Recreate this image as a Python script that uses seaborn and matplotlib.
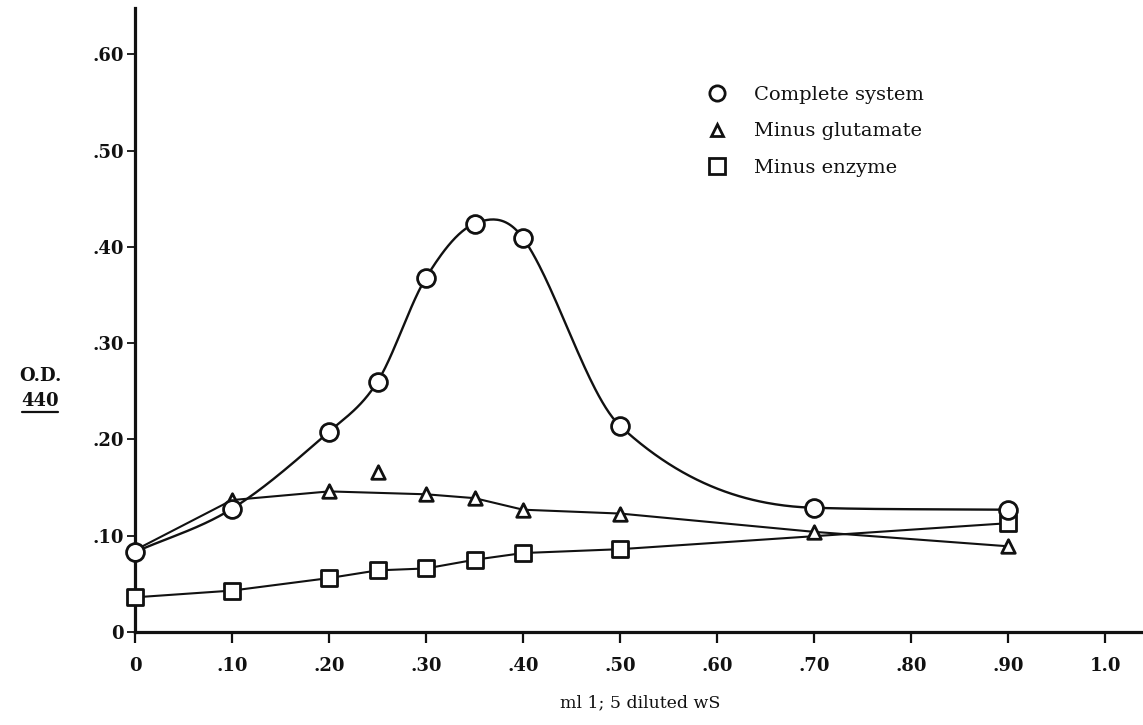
import numpy as np
import pandas as pd
import matplotlib
matplotlib.use("Agg")
import matplotlib.pyplot as plt
from matplotlib.lines import Line2D
import seaborn as sns

# ---------------- data ----------------
complete_x = [0.00, 0.10, 0.20, 0.25, 0.30, 0.35, 0.40, 0.50, 0.70, 0.90]
complete_y = [0.083, 0.128, 0.208, 0.260, 0.368, 0.424, 0.409, 0.214, 0.129, 0.127]

glut_x = [0.00, 0.10, 0.20, 0.30, 0.35, 0.40, 0.50, 0.70, 0.90]
glut_y = [0.085, 0.137, 0.146, 0.143, 0.139, 0.127, 0.123, 0.104, 0.089]
glut_extra_x = [0.25]          # isolated point, not on the drawn line
glut_extra_y = [0.166]

enz_x = [0.00, 0.10, 0.20, 0.25, 0.30, 0.35, 0.40, 0.50, 0.90]
enz_y = [0.036, 0.043, 0.056, 0.064, 0.066, 0.075, 0.082, 0.086, 0.113]

series_names = ["Complete system", "Minus glutamate", "Minus enzyme"]

x_ticks = [0.0, 0.1, 0.2, 0.3, 0.4, 0.5, 0.6, 0.7, 0.8, 0.9, 1.0]
x_ticklabels = ["0", ".10", ".20", ".30", ".40", ".50", ".60", ".70", ".80", ".90", "1.0"]
y_ticks = [0.0, 0.1, 0.2, 0.3, 0.4, 0.5, 0.6]
y_ticklabels = ["0", ".10", ".20", ".30", ".40", ".50", ".60"]

x_label = "ml 1; 5 diluted wS"
y_label_top = "O.D."
y_label_bottom = "440"


# smooth hand-drawn-like curve (Catmull-Rom tangents, limited only on monotone stretches)
def smooth_curve(x, y, xs):
    x = np.asarray(x, float)
    y = np.asarray(y, float)
    n = len(x)
    h = np.diff(x)
    d = np.diff(y) / h
    m = np.zeros(n)
    m[0], m[-1] = d[0], d[-1]
    for k in range(1, n - 1):
        m[k] = (y[k + 1] - y[k - 1]) / (x[k + 1] - x[k - 1])
    extremum = np.zeros(n, bool)
    for k in range(1, n - 1):
        extremum[k] = d[k - 1] * d[k] < 0
    for k in range(n - 1):
        if extremum[k] or extremum[k + 1]:
            continue
        lim = 3 * abs(d[k])
        for j in (k, k + 1):
            if abs(m[j]) > lim:
                m[j] = np.sign(m[j]) * lim
    idx = np.clip(np.searchsorted(x, xs) - 1, 0, n - 2)
    t = (xs - x[idx]) / h[idx]
    h00 = 2 * t**3 - 3 * t**2 + 1
    h10 = t**3 - 2 * t**2 + t
    h01 = -2 * t**3 + 3 * t**2
    h11 = t**3 - t**2
    return h00 * y[idx] + h10 * h[idx] * m[idx] + h01 * y[idx + 1] + h11 * h[idx] * m[idx + 1]


sns.set_style("ticks")
plt.rcParams["font.family"] = ["DejaVu Serif", "DejaVu Sans"]

W, H = 1143, 725
fig = plt.figure(figsize=(W / 100, H / 100), dpi=100)
fig.patch.set_facecolor("white")
ax = fig.add_axes([135 / W, 93 / H, 1008 / W, 624 / H])
ax.set_facecolor("white")

LW = 1.5
INK = "#111111"

xs = np.linspace(complete_x[0], complete_x[-1], 500)
curve = pd.DataFrame({"x": xs, "y": smooth_curve(complete_x, complete_y, xs)})
glut_df = pd.DataFrame({"x": glut_x, "y": glut_y})
enz_df = pd.DataFrame({"x": enz_x, "y": enz_y})

sns.lineplot(data=enz_df, x="x", y="y", ax=ax, color=INK, lw=LW, sort=False, estimator=None)
sns.lineplot(data=glut_df, x="x", y="y", ax=ax, color=INK, lw=LW, sort=False, estimator=None)
sns.lineplot(data=curve, x="x", y="y", ax=ax, color=INK, lw=LW + 0.2, sort=False, estimator=None)

mk = dict(facecolor="white", edgecolor=INK, linewidth=2.0, clip_on=False, zorder=5, ax=ax)
sns.scatterplot(x=enz_x, y=enz_y, marker="s", s=125, **mk)
sns.scatterplot(x=glut_x, y=glut_y, marker="^", s=95, **mk)
sns.scatterplot(x=glut_extra_x, y=glut_extra_y, marker="^", s=95, **mk)
sns.scatterplot(x=complete_x, y=complete_y, marker="o", s=165, **mk)

ax.set_xlim(0, 1.039)
ax.set_ylim(0, 0.648)
ax.set_xticks(x_ticks)
ax.set_xticklabels(x_ticklabels)
ax.set_yticks(y_ticks)
ax.set_yticklabels(y_ticklabels)
ax.set_xlabel("")
ax.set_ylabel("")

for s in ["top", "right"]:
    ax.spines[s].set_visible(False)
for s in ["left", "bottom"]:
    ax.spines[s].set_linewidth(2.3)
    ax.spines[s].set_color(INK)

ax.tick_params(axis="x", direction="out", length=8, width=1.6, color=INK, pad=10,
               labelsize=13, labelcolor=INK)
ax.tick_params(axis="y", direction="out", length=6, width=1.3, color=INK, pad=2,
               labelsize=13, labelcolor=INK)
for lab in ax.get_xticklabels() + ax.get_yticklabels():
    lab.set_fontweight("bold")

# axis titles
fig.text(640 / W, 1 - 703 / H, x_label, ha="center", va="center", fontsize=12.5, color=INK)
fig.text(40 / W, 1 - 376 / H, y_label_top, ha="center", va="center", fontsize=13,
         fontweight="bold", color=INK)
fig.text(40 / W, 1 - 401 / H, y_label_bottom, ha="center", va="center", fontsize=13,
         fontweight="bold", color=INK)
fig.add_artist(Line2D([22 / W, 58 / W], [1 - 412 / H, 1 - 412 / H], color=INK, lw=1.6,
                      transform=fig.transFigure))

# legend
handles = [
    Line2D([], [], ls="none", marker="o", ms=11, mfc="white", mec=INK, mew=2.0),
    Line2D([], [], ls="none", marker="^", ms=9, mfc="white", mec=INK, mew=2.0),
    Line2D([], [], ls="none", marker="s", ms=11, mfc="white", mec=INK, mew=2.0),
]
leg = fig.legend(handles, series_names, loc="upper left", bbox_to_anchor=(707 / W, 1 - 86 / H),
                 frameon=False, fontsize=14, handlelength=1.0, handletextpad=1.4,
                 labelspacing=0.95, borderpad=0, borderaxespad=0)
for t in leg.get_texts():
    t.set_color(INK)

fig.savefig("out.png", dpi=100, facecolor="white")
